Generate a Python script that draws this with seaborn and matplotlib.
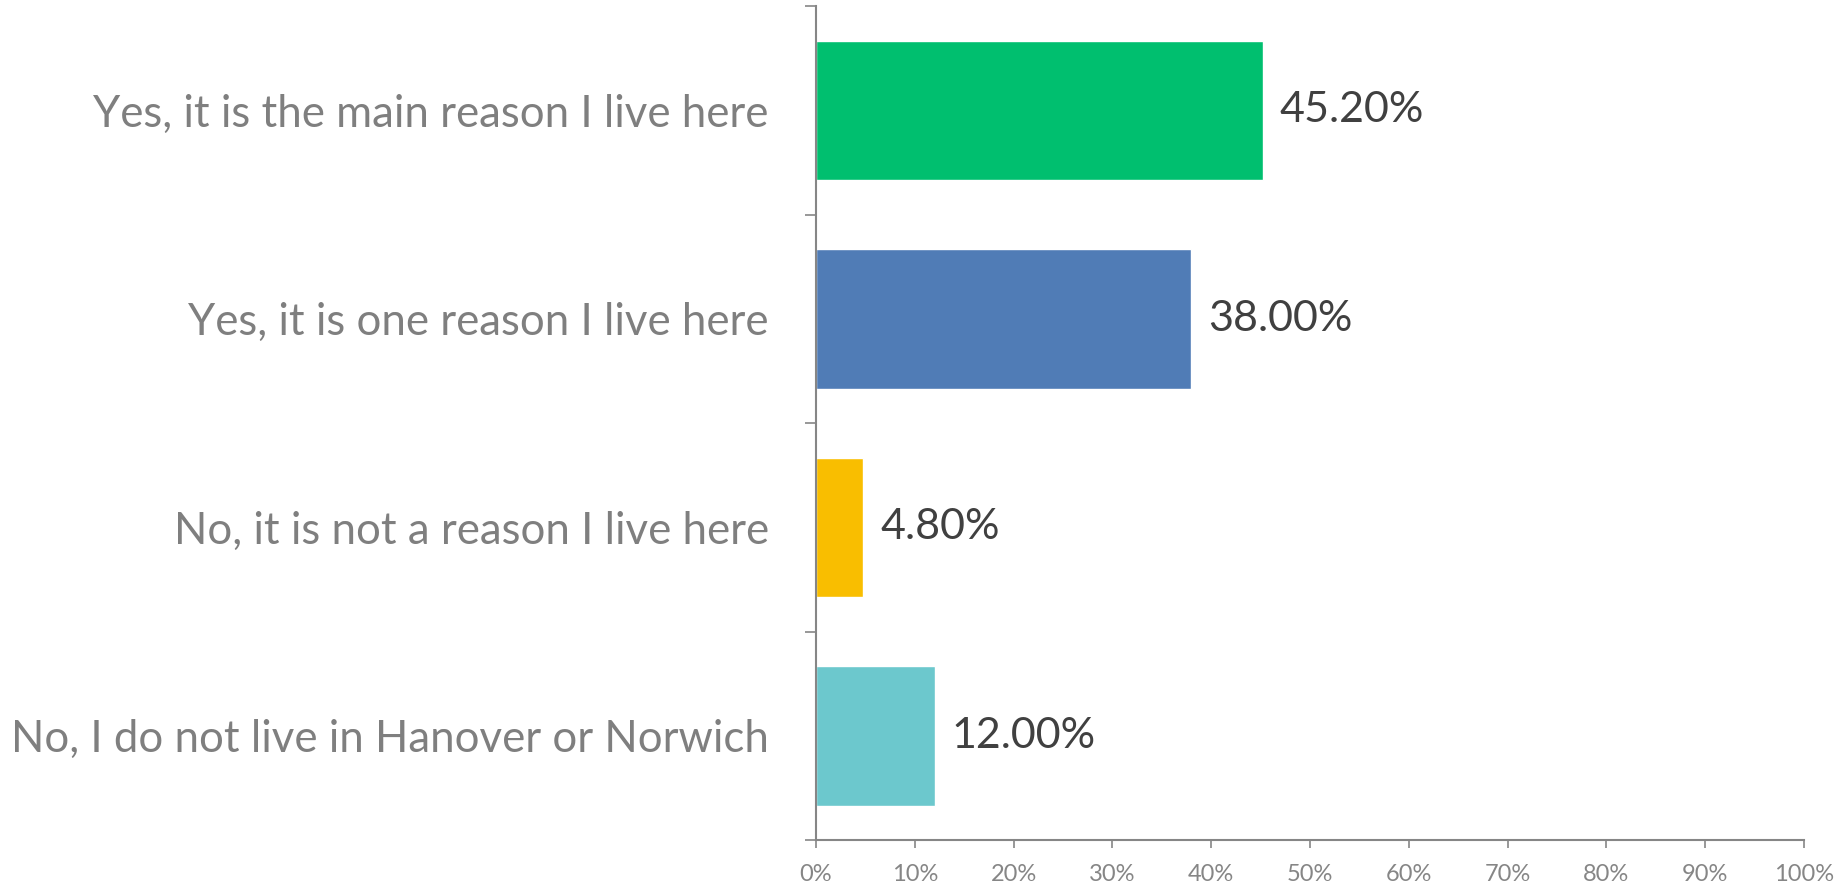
import pandas as pd
import seaborn as sns
import matplotlib.pyplot as plt
from matplotlib.ticker import FixedLocator

categories = [
    'Yes, it is the main reason I live here',
    'Yes, it is one reason I live here',
    'No, it is not a reason I live here',
    'No, I do not live in Hanover or Norwich',
]
percent = [45.20, 38.00, 4.80, 12.00]
bar_colors = ['#00BF6F', '#507CB6', '#F9BE00', '#6CC8CD']
x_ticks = [0, 10, 20, 30, 40, 50, 60, 70, 80, 90, 100]

df = pd.DataFrame({'Answer': categories, 'Percent': percent})

sns.set_style('white')
plt.rcParams['font.family'] = ['Lato', 'DejaVu Sans']

fig = plt.figure(figsize=(18.49, 8.88), dpi=100)
ax = fig.add_axes([0.4413, 0.054, 0.5344, 0.939])

sns.barplot(data=df, x='Percent', y='Answer', hue='Answer', palette=bar_colors,
            orient='h', width=0.67, legend=False, saturation=1, ax=ax)

# value labels at bar ends
for bar, v in zip(ax.patches, percent):
    ax.annotate(f'{v:.2f}%', (bar.get_width(), bar.get_y() + bar.get_height() / 2),
                xytext=(12, 0), textcoords='offset points', ha='left', va='center',
                fontsize=31, color='#404040')

axis_gray = '#868686'
ax.set_xlim(0, 100)
ax.set_ylim(len(categories) - 0.5, -0.5)
ax.set_xticks(x_ticks)
ax.set_xticklabels([f'{t}%' for t in x_ticks])
ax.tick_params(axis='x', length=6, width=1.2, color=axis_gray, labelcolor=axis_gray,
               labelsize=17, pad=11, bottom=True)
ax.tick_params(axis='y', which='major', length=0, pad=34, labelsize=31.5, labelcolor='#7F7F7F')
ax.yaxis.set_minor_locator(FixedLocator([i - 0.5 for i in range(len(categories) + 1)]))
ax.tick_params(axis='y', which='minor', length=8, width=1.2, color=axis_gray, left=True)
ax.set_xlabel('')
ax.set_ylabel('')

for side in ['top', 'right']:
    ax.spines[side].set_visible(False)
for side in ['left', 'bottom']:
    ax.spines[side].set_color(axis_gray)
    ax.spines[side].set_linewidth(1.5)

fig.savefig('out.png', dpi=100, facecolor='white')
